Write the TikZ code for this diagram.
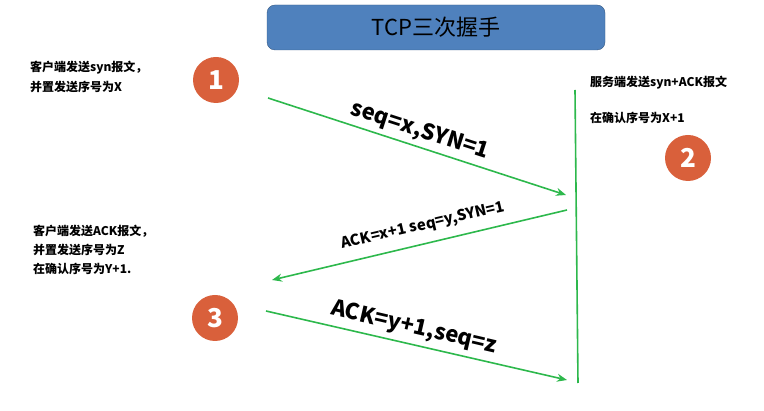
\documentclass[tikz,border=0pt]{standalone}
\usepackage{fontspec}
\setmainfont{Noto Sans CJK SC}
\newfontfamily\cjk{Noto Sans CJK SC}
\usetikzlibrary{arrows.meta}
\definecolor{gr}{HTML}{2DB84C}
\definecolor{orn}{HTML}{D9603B}
\definecolor{tb}{HTML}{4F81BD}
\begin{document}
\begin{tikzpicture}[x=1pt,y=-1pt,
  num/.style={circle,fill=orn,minimum size=46pt,inner sep=0,text=white,font=\fontsize{26}{26}\selectfont\bfseries},
  note/.style={anchor=west,font=\fontsize{12}{13}\selectfont\bfseries,inner sep=0},
  msg/.style={-{Stealth[length=10pt,width=8pt]},gr,line width=1.6pt},
  lab/.style={font=\bfseries,inner sep=0}]
\useasboundingbox (0,0) rectangle (764,411);
\node[draw=tb!70!black,fill=tb,rounded corners=8pt,minimum width=338pt,minimum height=45pt,font=\fontsize{22}{22}\selectfont] (t) at (436,27.5) {TCP三次握手};
\node[num] (n1) at (216,80) {1};
\node[num] (n2) at (688,158) {2};
\node[num] (n3) at (215,318) {3};
\coordinate (vt) at (575,90); \coordinate (vb) at (578,383);
\draw[gr,line width=1.6pt] (vt) -- (vb);
\coordinate (a1s) at (268,98); \coordinate (a1e) at (566,195);
\coordinate (a2s) at (567,210); \coordinate (a2e) at (272,280);
\coordinate (a3s) at (266,311); \coordinate (a3e) at (567,380);
\draw[msg] (a1s) -- (a1e);
\draw[msg] (a2s) -- (a2e);
\draw[msg] (a3s) -- (a3e);
\node[lab,rotate=-18,font=\fontsize{22}{22}\selectfont\bfseries] (l1) at (420,131) {seq=x,SYN=1};
\node[lab,rotate=13,font=\fontsize{15}{15}\selectfont\bfseries] (l2) at (423,226) {ACK=x+1 seq=y,SYN=1};
\node[lab,rotate=-13,font=\fontsize{22}{22}\selectfont\bfseries] (l3) at (414,328) {ACK=y+1,seq=z};
\node[note] (c1) at (30,68) {客户端发送syn报文，};
\node[note] (c2) at (30,87) {并置发送序号为X};
\node[note] (s1) at (590,83) {服务端发送syn+ACK报文};
\node[note] (s2) at (590,118) {在确认序号为X+1};
\node[note] (d1) at (33,231) {客户端发送ACK报文，};
\node[note] (d2) at (33,250) {并置发送序号为Z};
\node[note] (d3) at (33,269) {在确认序号为Y+1.};
\end{tikzpicture}
\end{document}
